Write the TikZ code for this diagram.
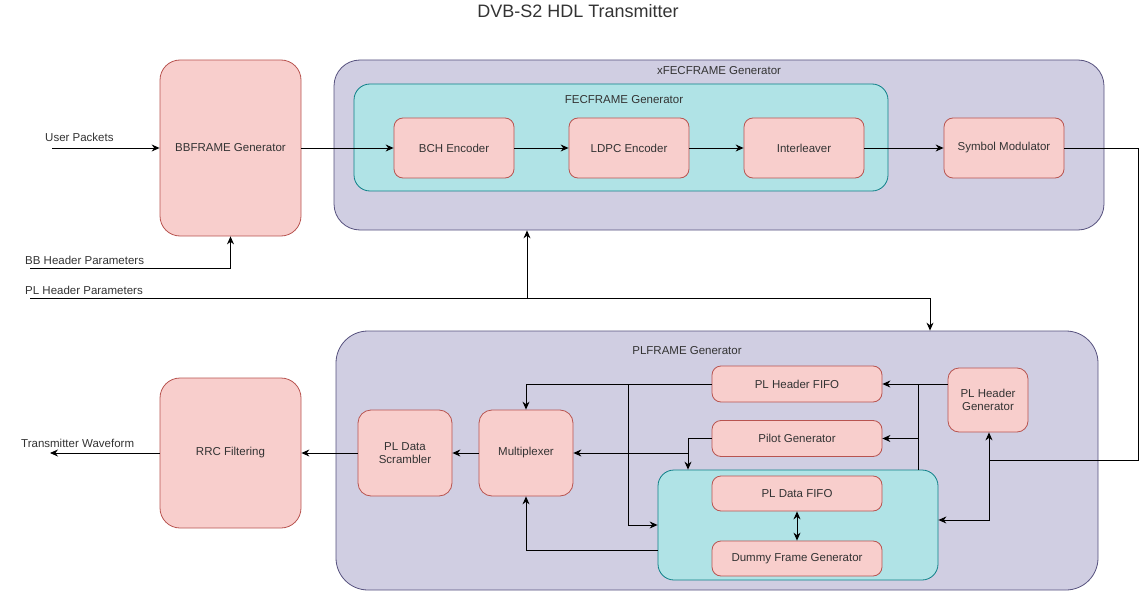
\documentclass[tikz,border=0pt]{standalone}
\usepackage{fontspec}
\setmainfont{Liberation Sans}
\usetikzlibrary{arrows.meta,positioning}
\definecolor{blkfill}{HTML}{F8CECC}
\definecolor{blkline}{HTML}{B85450}
\definecolor{grpfill}{HTML}{D0CEE2}
\definecolor{grpline}{HTML}{56517E}
\definecolor{subfill}{HTML}{B0E3E6}
\definecolor{subline}{HTML}{0E8088}
\definecolor{txtcol}{HTML}{333333}

\begin{document}
\begin{tikzpicture}[x=1pt,y=-1pt,
    every node/.style={font=\fontsize{11.5}{13.5}\selectfont, text=txtcol},
    blk/.style={draw=blkline, fill=blkfill, line width=0.8pt, rounded corners=9pt, align=center, inner sep=2pt},
    grp/.style={draw=grpline, fill=grpfill, line width=0.8pt, rounded corners=26pt},
    subgrp/.style={draw=subline, fill=subfill, line width=0.8pt, rounded corners=16pt},
    wire/.style={draw=black, line width=0.9pt},
    flow/.style={wire, -{Stealth[length=8pt,width=7pt]}}]
  \useasboundingbox (0,0) rectangle (1141,591);

  % title
  \node[font=\fontsize{18}{21}\selectfont] (title) at (578,11) {DVB-S2 HDL Transmitter};

  % containers
  \node[grp, minimum width=770pt, minimum height=170pt,
        label={[anchor=north, yshift=-3pt]north:xFECFRAME Generator}] (xfec) at (719,145) {};
  \node[subgrp, minimum width=534pt, minimum height=107pt,
        label={[anchor=north, xshift=3pt, yshift=-8pt]north:FECFRAME Generator}] (fec) at (621,137.5) {};
  \node[grp, rounded corners=32pt, minimum width=762pt, minimum height=259pt,
        label={[anchor=north, xshift=-30pt, yshift=-12pt]north:PLFRAME Generator}] (plframe) at (717,460.5) {};
  \node[subgrp, minimum width=280pt, minimum height=110pt] (databox) at (798,525) {};

  % blocks
  \node[blk, rounded corners=20pt, minimum width=141pt, minimum height=176pt] (bbgen) at (230.5,148) {BBFRAME Generator};
  \node[blk, minimum width=120pt, minimum height=60pt] (bch) at (454,148) {BCH Encoder};
  \node[blk, minimum width=120pt, minimum height=60pt] (ldpc) at (629,148) {LDPC Encoder};
  \node[blk, minimum width=120pt, minimum height=60pt] (intlv) at (804,148) {Interleaver};
  \node[blk, minimum width=120pt, minimum height=60pt] (symmod) at (1004,148) {Symbol Modulator};

  \node[blk, rounded corners=20pt, minimum width=141pt, minimum height=150pt] (rrc) at (230.5,453) {RRC Filtering};
  \node[blk, rounded corners=13pt, minimum width=94pt, minimum height=86pt] (scram) at (405,453) {PL Data\\Scrambler};
  \node[blk, rounded corners=13pt, minimum width=94pt, minimum height=86pt] (mux) at (526,453) {Multiplexer};
  \node[blk, minimum width=170pt, minimum height=36pt] (hdrfifo) at (797,384) {PL Header FIFO};
  \node[blk, minimum width=170pt, minimum height=36pt] (pilot) at (797,438.5) {Pilot Generator};
  \node[blk, rounded corners=11pt, minimum width=80pt, minimum height=64pt] (hdrgen) at (988,400) {PL Header\\Generator};
  \node[blk, minimum width=170pt, minimum height=35pt] (datafifo) at (797,493.5) {PL Data FIFO};
  \node[blk, minimum width=170pt, minimum height=35pt] (dummy) at (797,558.5) {Dummy Frame Generator};

  % outside inputs / outputs
  \coordinate (upin) at (52,148);
  \coordinate (bbin) at (30,268);
  \coordinate (plin) at (30,298);
  \coordinate (txout) at (50,453);
  \node[anchor=south west, inner sep=1pt] (uplbl) at (44,143) {User Packets};
  \node[anchor=south west, inner sep=1pt] (bblbl) at (24,266) {BB Header Parameters};
  \node[anchor=south west, inner sep=1pt] (pllbl) at (24,296) {PL Header Parameters};
  \node[anchor=south west, inner sep=1pt] (txlbl) at (20,449) {Transmitter Waveform};

  % top chain
  \draw[flow] (upin) -- (bbgen.west);
  \draw[flow] (bbgen.east) -- (bch.west);
  \draw[flow] (bch) -- (ldpc);
  \draw[flow] (ldpc) -- (intlv);
  \draw[flow] (intlv) -- (symmod);
  \draw[flow] (bbin) -| (bbgen.south);
  \coordinate (plj) at (527,298);
  \draw[wire] (plin) -- (plj);
  \draw[flow] (plj) -- (plj |- xfec.south);
  \draw[flow] (plj) -| ([xshift=213pt]plframe.north);

  % loop back from the symbol modulator
  \coordinate (rt) at (1138,148);
  \coordinate (rb) at (1138,460);
  \coordinate (hj) at (989,460);
  \draw[wire] (symmod.east) -- (rt) -- (rb) -- (hj);
  \draw[flow] (hj) -- (hj |- hdrgen.south);
  \draw[flow] (hj) |- ([yshift=5pt]databox.east);

  % PLFRAME internals
  \coordinate (hv) at (918,384);
  \draw[flow] (hdrgen.west |- hdrfifo.east) -- (hdrfifo.east);
  \draw[wire] (hv) -- (hv |- databox.north);
  \draw[flow] (hv |- pilot.east) -- (pilot.east);
  \draw[flow] (hdrfifo.west) -| (mux.north);
  \coordinate (fj) at (628,384);
  \draw[flow] (fj) |- (databox.west);
  \coordinate (pj) at (688,453);
  \draw[wire] (pilot.west) -| (pj);
  \draw[flow] (pj) -- (pj |- databox.north);
  \draw[flow] (pj) -- (mux.east);
  \draw[flow] ([yshift=-25pt]databox.west) -| (mux.south);
  \draw[{Stealth[length=8pt,width=7pt]}-{Stealth[length=8pt,width=7pt]}, wire] (datafifo.south) -- (dummy.north);
  \draw[flow] (mux.west) -- (scram.east);
  \draw[flow] (scram.west) -- (rrc.east);
  \draw[flow] (rrc.west) -- (txout);
\end{tikzpicture}
\end{document}
